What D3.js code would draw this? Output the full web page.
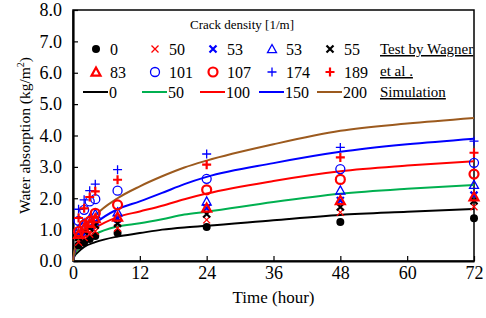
<html>
<head>
  <script src="https://d3js.org/d3.v7.min.js"></script>
  <style>
    body { margin: 0; background: #fff; }
    text { font-family: "Liberation Serif", "Times New Roman", serif; fill: #000; }
  </style>
</head>
<body>
<script>
// test data (Wagner et al.), times in hours
var testTimes = [1, 2, 3, 4, 8, 24, 48, 72];
var tests = [
  { label: "0",   mark: "dot",   color: "#000",    bold: true,  values: [0.5, 0.6, 0.7, 0.8, 0.89, 1.08, 1.24, 1.36] },
  { label: "50",  mark: "x",     color: "#ff0000", bold: false, values: [0.6, 0.75, 0.85, 0.95, 1.05, 1.31, 1.55, 1.73] },
  { label: "53",  mark: "x",     color: "#0000ff", bold: true,  values: [0.8, 0.95, 1.1, 1.25, 1.35, 1.69, 1.93, 2.1] },
  { label: "53",  mark: "tri",   color: "#0000ff", bold: false, values: [1.0, 1.2, 1.35, 1.5, 1.55, 1.9, 2.25, 2.43] },
  { label: "55",  mark: "x",     color: "#000",    bold: true,  values: [0.75, 0.95, 1.05, 1.15, 1.2, 1.5, 1.72, 1.92] },
  { label: "83",  mark: "tri",   color: "#ff0000", bold: true,  values: [0.85, 1.05, 1.2, 1.35, 1.4, 1.69, 1.93, 2.05] },
  { label: "101", mark: "circle",color: "#0000ff", bold: false, values: [1.28, 1.63, 1.9, 1.97, 2.24, 2.62, 2.93, 3.13] },
  { label: "107", mark: "circle",color: "#ff0000", bold: true,  values: [0.94, 1.15, 1.26, 1.52, 1.79, 2.27, 2.6, 2.77] },
  { label: "174", mark: "plus",  color: "#0000ff", bold: false, values: [1.65, 1.95, 2.24, 2.45, 2.91, 3.41, 3.62, 3.82] },
  { label: "189", mark: "plus",  color: "#ff0000", bold: true,  values: [1.37, 1.68, 2.04, 2.22, 2.59, 3.07, 3.3, 3.45] }
];

// simulation curves
var simTimes = [0, 0.25, 1, 2, 4, 8, 12, 16, 20, 24, 36, 48, 60, 72];
var sims = [
  { label: "0",   color: "#000000", values: [0, 0.15, 0.3, 0.45, 0.6, 0.78, 0.89, 1.0, 1.07, 1.12, 1.3, 1.47, 1.57, 1.66] },
  { label: "50",  color: "#00b050", values: [0, 0.2, 0.4, 0.6, 0.85, 1.1, 1.2, 1.33, 1.48, 1.57, 1.88, 2.14, 2.3, 2.42] },
  { label: "100", color: "#ff0000", values: [0, 0.25, 0.5, 0.75, 1.05, 1.4, 1.58, 1.76, 1.97, 2.15, 2.55, 2.86, 3.04, 3.18] },
  { label: "150", color: "#0000ff", values: [0, 0.28, 0.55, 0.85, 1.2, 1.65, 1.9, 2.17, 2.45, 2.68, 3.12, 3.48, 3.72, 3.9] },
  { label: "200", color: "#9c5a1e", values: [0, 0.33, 0.65, 1.0, 1.45, 2.0, 2.38, 2.7, 2.98, 3.2, 3.72, 4.15, 4.38, 4.56] }
];

var xTicks = [0, 12, 24, 36, 48, 60, 72];
var yTicks = [0, 1, 2, 3, 4, 5, 6, 7, 8];

var width = 486, height = 318;
var margin = { left: 73, right: 12, top: 10, bottom: 57 };

var svg = d3.select("body").append("svg")
  .attr("width", width)
  .attr("height", height);

var x = d3.scaleLinear().domain([0, 72]).range([margin.left, width - margin.right]);
var y = d3.scaleLinear().domain([0, 8]).range([height - margin.bottom, margin.top]);

// frame
svg.append("rect")
  .attr("x", x(0)).attr("y", y(8))
  .attr("width", x(72) - x(0)).attr("height", y(0) - y(8))
  .attr("fill", "none").attr("stroke", "#000").attr("stroke-width", 1.5);

var xAxis = svg.append("g")
  .attr("transform", "translate(0," + y(0) + ")")
  .call(d3.axisBottom(x).tickValues(xTicks).tickSizeInner(-5).tickSizeOuter(0).tickPadding(5));
var yAxis = svg.append("g")
  .attr("transform", "translate(" + x(0) + ",0)")
  .call(d3.axisLeft(y).tickValues(yTicks).tickFormat(d3.format(".1f")).tickSizeInner(-5).tickSizeOuter(0).tickPadding(11));

[xAxis, yAxis].forEach(function(a) {
  a.attr("font-family", null);
  a.select(".domain").attr("stroke-width", 2.2);
  a.selectAll(".tick line").attr("stroke-width", 1.2);
  a.selectAll("text").style("font-size", "18px");
});

svg.append("text")
  .attr("x", (x(0) + x(72)) / 2).attr("y", 303)
  .attr("text-anchor", "middle").style("font-size", "17px")
  .text("Time (hour)");

var yt = svg.append("text")
  .attr("transform", "translate(30," + ((y(0) + y(8)) / 2) + ") rotate(-90)")
  .attr("text-anchor", "middle").style("font-size", "15.5px");
yt.append("tspan").text("Water absorption (kg/m");
yt.append("tspan").attr("dy", -6).style("font-size", "10px").text("2");
yt.append("tspan").attr("dy", 6).text(")");

// simulation lines
var line = d3.line()
  .x(function(d) { return x(d[0]); })
  .y(function(d) { return y(d[1]); })
  .curve(d3.curveMonotoneX);

sims.forEach(function(s) {
  svg.append("path")
    .datum(simTimes.map(function(t, i) { return [t, s.values[i]]; }))
    .attr("d", line)
    .attr("fill", "none")
    .attr("stroke", s.color)
    .attr("stroke-width", 2);
});

function drawMark(g, type, color, bold, cx, cy) {
  var sw = bold ? 2.2 : 1.3;
  if (type === "dot") {
    g.append("circle").attr("cx", cx).attr("cy", cy).attr("r", 4).attr("fill", color);
  } else if (type === "circle") {
    g.append("circle").attr("cx", cx).attr("cy", cy).attr("r", 4.5)
      .attr("fill", "none").attr("stroke", color).attr("stroke-width", sw);
  } else if (type === "x") {
    var r = 3.5;
    g.append("path")
      .attr("d", "M" + (cx - r) + "," + (cy - r) + "L" + (cx + r) + "," + (cy + r) +
                 "M" + (cx - r) + "," + (cy + r) + "L" + (cx + r) + "," + (cy - r))
      .attr("stroke", color).attr("stroke-width", sw).attr("fill", "none");
  } else if (type === "plus") {
    var p = 4.5;
    g.append("path")
      .attr("d", "M" + (cx - p) + "," + cy + "L" + (cx + p) + "," + cy +
                 "M" + cx + "," + (cy - p) + "L" + cx + "," + (cy + p))
      .attr("stroke", color).attr("stroke-width", sw).attr("fill", "none");
  } else if (type === "tri") {
    var t = 4.5;
    g.append("path")
      .attr("d", "M" + cx + "," + (cy - t) + "L" + (cx + t) + "," + (cy + t * 0.8) +
                 "L" + (cx - t) + "," + (cy + t * 0.8) + "Z")
      .attr("stroke", color).attr("stroke-width", sw).attr("fill", "none");
  }
}

// test points
var pts = svg.append("g");
tests.forEach(function(s) {
  testTimes.forEach(function(t, i) {
    drawMark(pts, s.mark, s.color, s.bold, x(t), y(s.values[i]));
  });
});

// legend
var lg = svg.append("g");
lg.append("text").attr("x", 242).attr("y", 29).attr("text-anchor", "middle")
  .style("font-size", "13px").text("Crack density [1/m]");

var colX = [96, 155, 213, 272, 330];
var rowY = [49, 72, 92];
tests.forEach(function(s, i) {
  var c = i % 5, r = Math.floor(i / 5);
  drawMark(lg, s.mark, s.color, s.bold, colX[c], rowY[r]);
  lg.append("text").attr("x", colX[c] + 14).attr("y", rowY[r] + 5.5)
    .style("font-size", "16px").text(s.label);
});
sims.forEach(function(s, i) {
  lg.append("line")
    .attr("x1", colX[i] - 13).attr("x2", colX[i] + 12)
    .attr("y1", rowY[2]).attr("y2", rowY[2])
    .attr("stroke", s.color).attr("stroke-width", 2);
  lg.append("text").attr("x", colX[i] + 13).attr("y", rowY[2] + 5.5)
    .style("font-size", "16px").text(s.label);
});
[["Test by Wagner", 54], ["et al .", 76], ["Simulation", 97]].forEach(function(d) {
  lg.append("text").attr("x", 380).attr("y", d[1])
    .style("font-size", "15px").style("text-decoration", "underline").text(d[0]);
});
</script>
</body>
</html>
